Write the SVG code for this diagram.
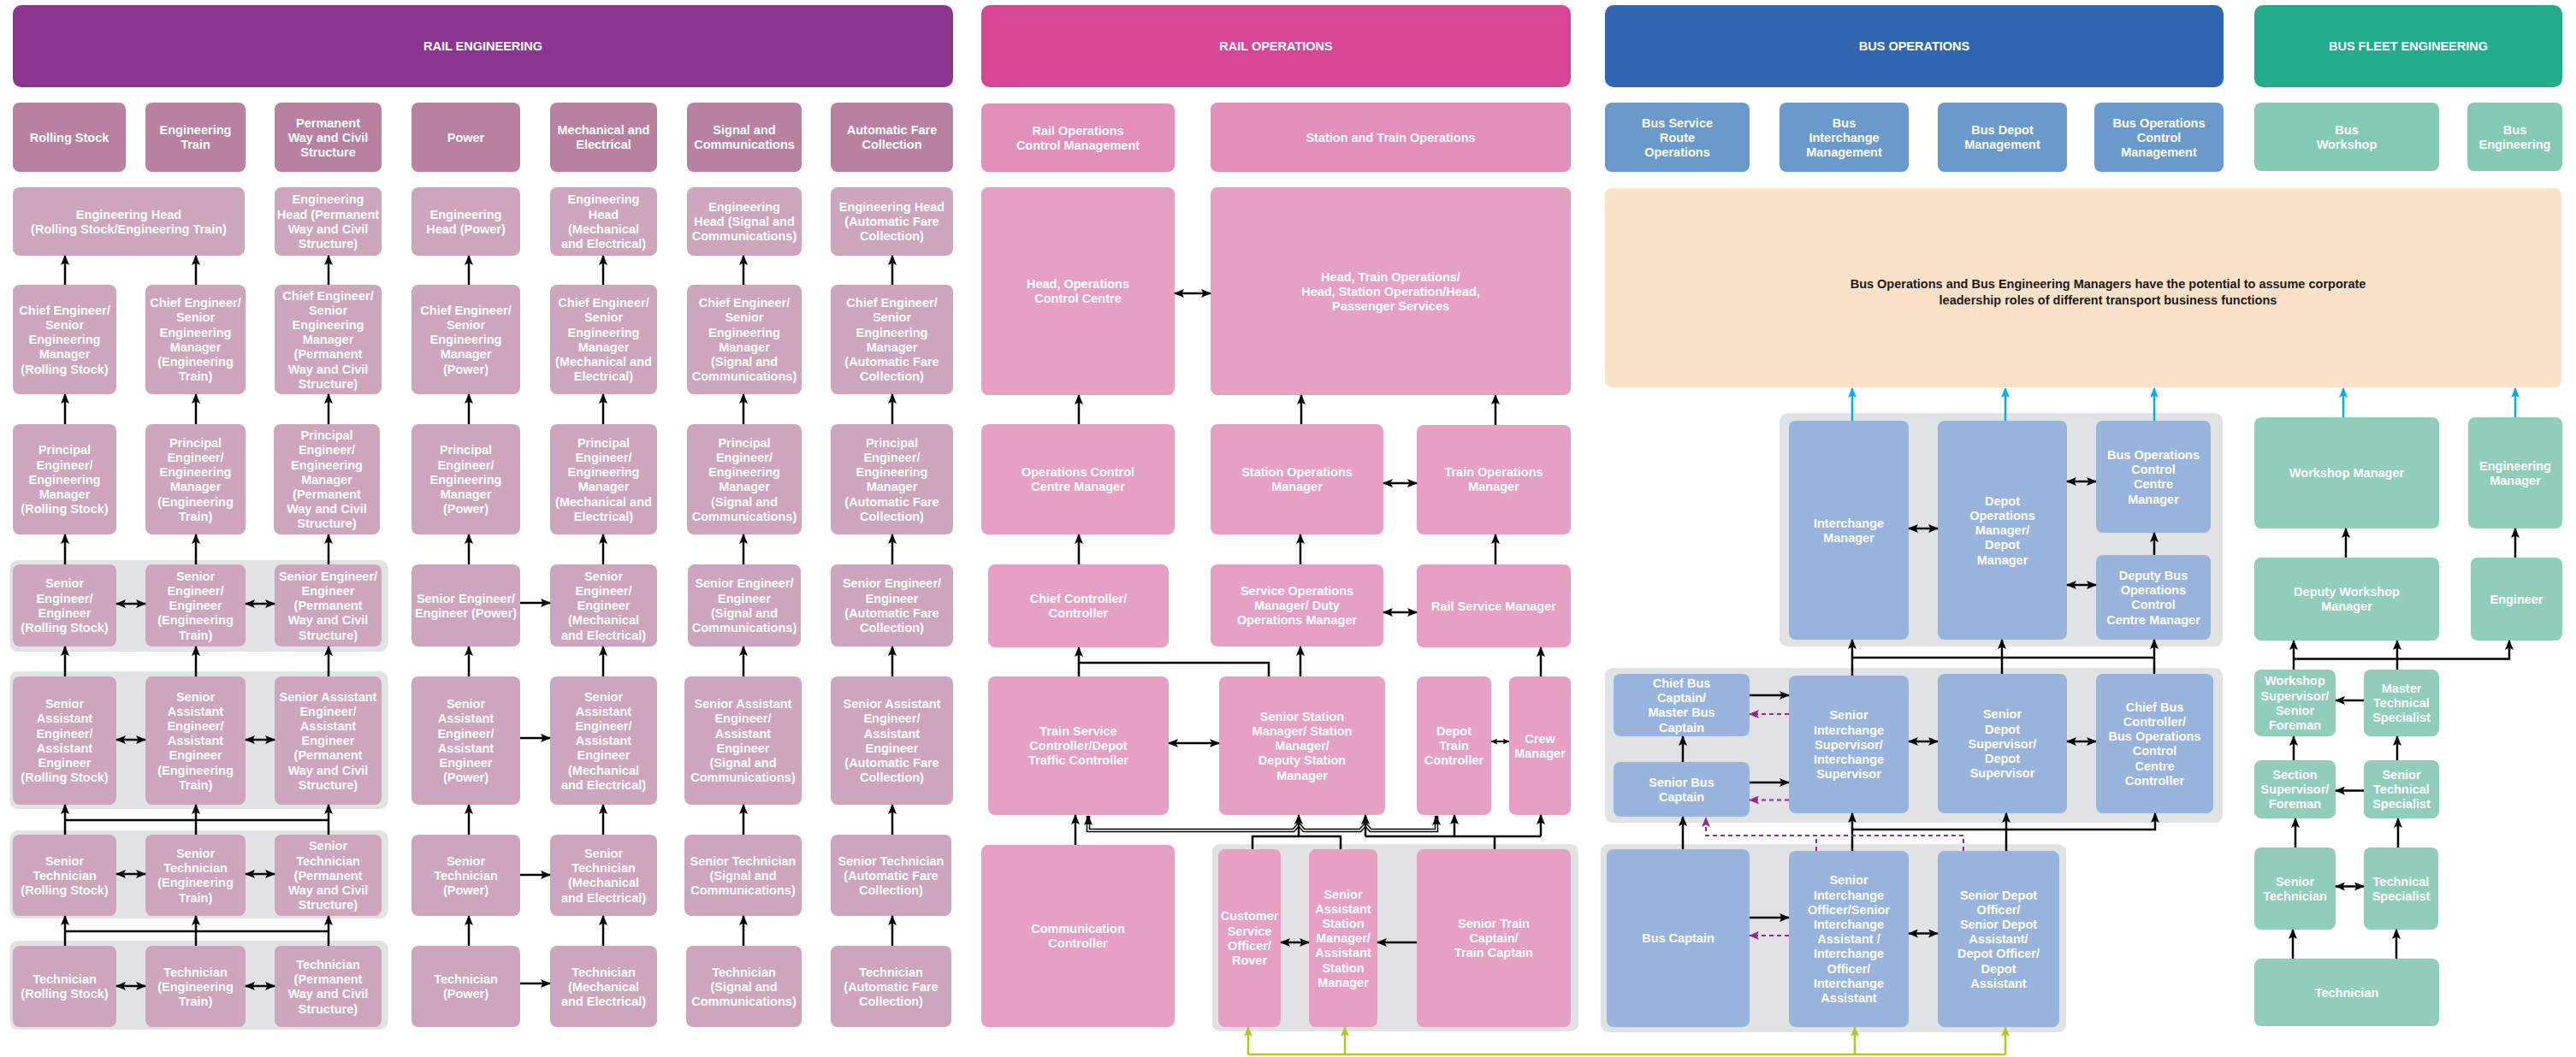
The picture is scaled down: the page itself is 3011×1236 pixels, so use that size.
<svg xmlns="http://www.w3.org/2000/svg" width="3011" height="1236" viewBox="0 0 3011 1236">
<style>
.t{font-family:"Liberation Sans",Arial,sans-serif;font-weight:bold;font-size:14.5px;fill:#fff;text-anchor:middle}
.pt{font-family:"Liberation Sans",Arial,sans-serif;font-weight:bold;font-size:14.5px;fill:#1a1a1a;text-anchor:middle}
.band{fill:#E1E2E4}
.reh{fill:#8C358F}.rec{fill:#B7819F}.reb{fill:#CDA5BD}
.roh{fill:#D64694}.roc{fill:#E290BA}.rob{fill:#E6A0C4}
.boh{fill:#3066AF}.boc{fill:#6A99CB}.bob{fill:#98B4DC}
.bfh{fill:#22AC8A}.bfc{fill:#84C9B3}.bfb{fill:#90CDBA}
.peach{fill:#FCE1C9}
.c{fill:none;stroke:#000;stroke-width:2.5}
.ca{fill:none;stroke:#000;stroke-width:2.5;marker-end:url(#a)}
.cb{fill:none;stroke:#000;stroke-width:2.5;marker-start:url(#a);marker-end:url(#a)}
.cs{fill:none;stroke:#000;stroke-width:2;marker-start:url(#as);marker-end:url(#as)}
.cy{fill:none;stroke:#00AEEF;stroke-width:2.5;marker-end:url(#ac)}
.gr{fill:none;stroke:#B2C81E;stroke-width:2.5}
.gra{fill:none;stroke:#B2C81E;stroke-width:2.5;marker-end:url(#ag)}
.pd{fill:none;stroke:#93278F;stroke-width:2;stroke-dasharray:5 4}
.pda{fill:none;stroke:#93278F;stroke-width:2;stroke-dasharray:5 4;marker-end:url(#ap)}
</style>
<defs>
<marker id="a" viewBox="0 0 12 10" refX="11" refY="5" markerWidth="12" markerHeight="10" markerUnits="userSpaceOnUse" orient="auto-start-reverse"><path d="M0,0 L12,5 L0,10 L2.5,5 z" fill="#000"/></marker>
<marker id="as" viewBox="0 0 12 10" refX="11" refY="5" markerWidth="8" markerHeight="7" markerUnits="userSpaceOnUse" orient="auto-start-reverse"><path d="M0,0 L12,5 L0,10 L2.5,5 z" fill="#000"/></marker>
<marker id="ac" viewBox="0 0 12 10" refX="11" refY="5" markerWidth="12" markerHeight="10" markerUnits="userSpaceOnUse" orient="auto-start-reverse"><path d="M0,0 L12,5 L0,10 L2.5,5 z" fill="#00AEEF"/></marker>
<marker id="ag" viewBox="0 0 12 10" refX="11" refY="5" markerWidth="12" markerHeight="10" markerUnits="userSpaceOnUse" orient="auto-start-reverse"><path d="M0,0 L12,5 L0,10 L2.5,5 z" fill="#B2C81E"/></marker>
<marker id="ap" viewBox="0 0 12 10" refX="11" refY="5" markerWidth="12" markerHeight="10" markerUnits="userSpaceOnUse" orient="auto-start-reverse"><path d="M0,0 L12,5 L0,10 L2.5,5 z" fill="#93278F"/></marker>
</defs>
<rect width="3011" height="1236" fill="#fff"/>

<g id="bands">
<rect class="band" x="11.5" y="655" width="442" height="107" rx="9"/>
<rect class="band" x="11.5" y="785" width="442" height="161" rx="9"/>
<rect class="band" x="11.5" y="971" width="442" height="103" rx="9"/>
<rect class="band" x="11.5" y="1100" width="442" height="104" rx="9"/>
<rect class="band" x="1417" y="987" width="428" height="219" rx="9"/>
<rect class="band" x="2080" y="483" width="518" height="273" rx="9"/>
<rect class="band" x="1876" y="781" width="722" height="181" rx="9"/>
<rect class="band" x="1871" y="987" width="544" height="220" rx="9"/>
</g>

<!-- ================= RAIL ENGINEERING ================= -->
<g id="hdr_rail_eng"><rect class="reh" x="15" y="6" width="1099" height="96" rx="10"/><text class="t" x="564.5" y="59.2">RAIL ENGINEERING</text></g>

<g id="cat_rs"><rect class="rec" x="15" y="120" width="132" height="81" rx="8"/><text class="t" x="81" y="165.7">Rolling Stock</text></g>
<g id="cat_et"><rect class="rec" x="170" y="120" width="117" height="81" rx="8"/><text class="t" x="228.5" y="157.1"><tspan x="228.5">Engineering</tspan><tspan x="228.5" dy="17.2">Train</tspan></text></g>
<g id="cat_pw"><rect class="rec" x="321" y="120" width="125" height="81" rx="8"/><text class="t" x="383.5" y="148.5"><tspan x="383.5">Permanent</tspan><tspan x="383.5" dy="17.2">Way and Civil</tspan><tspan x="383.5" dy="17.2">Structure</tspan></text></g>
<g id="cat_pow"><rect class="rec" x="481" y="120" width="127" height="81" rx="8"/><text class="t" x="544.5" y="165.7">Power</text></g>
<g id="cat_me"><rect class="rec" x="643" y="120" width="125" height="81" rx="8"/><text class="t" x="705.5" y="157.1"><tspan x="705.5">Mechanical and</tspan><tspan x="705.5" dy="17.2">Electrical</tspan></text></g>
<g id="cat_sc"><rect class="rec" x="803" y="120" width="134" height="81" rx="8"/><text class="t" x="870" y="157.1"><tspan x="870">Signal and</tspan><tspan x="870" dy="17.2">Communications</tspan></text></g>
<g id="cat_afc"><rect class="rec" x="971" y="120" width="143" height="81" rx="8"/><text class="t" x="1042.5" y="157.1"><tspan x="1042.5">Automatic Fare</tspan><tspan x="1042.5" dy="17.2">Collection</tspan></text></g>

<g id="head_rset"><rect class="reb" x="15" y="219" width="271" height="80" rx="8"/><text class="t" x="150.5" y="255.6"><tspan x="150.5">Engineering Head</tspan><tspan x="150.5" dy="17.2">(Rolling Stock/Engineering Train)</tspan></text></g>
<g id="head_pw"><rect class="reb" x="321" y="219" width="125" height="80" rx="8"/><text class="t" x="383.5" y="238.4"><tspan x="383.5">Engineering</tspan><tspan x="383.5" dy="17.2">Head (Permanent</tspan><tspan x="383.5" dy="17.2">Way and Civil</tspan><tspan x="383.5" dy="17.2">Structure)</tspan></text></g>
<g id="head_pow"><rect class="reb" x="481" y="219" width="127" height="80" rx="8"/><text class="t" x="544.5" y="255.6"><tspan x="544.5">Engineering</tspan><tspan x="544.5" dy="17.2">Head (Power)</tspan></text></g>
<g id="head_me"><rect class="reb" x="643" y="219" width="125" height="80" rx="8"/><text class="t" x="705.5" y="238.4"><tspan x="705.5">Engineering</tspan><tspan x="705.5" dy="17.2">Head</tspan><tspan x="705.5" dy="17.2">(Mechanical</tspan><tspan x="705.5" dy="17.2">and Electrical)</tspan></text></g>
<g id="head_sc"><rect class="reb" x="803" y="219" width="134" height="80" rx="8"/><text class="t" x="870" y="247"><tspan x="870">Engineering</tspan><tspan x="870" dy="17.2">Head (Signal and</tspan><tspan x="870" dy="17.2">Communications)</tspan></text></g>
<g id="head_afc"><rect class="reb" x="971" y="219" width="143" height="80" rx="8"/><text class="t" x="1042.5" y="247"><tspan x="1042.5">Engineering Head</tspan><tspan x="1042.5" dy="17.2">(Automatic Fare</tspan><tspan x="1042.5" dy="17.2">Collection)</tspan></text></g>

<g id="chief_rs"><rect class="reb" x="15" y="333" width="121" height="128" rx="8"/><text class="t" x="75.5" y="367.8"><tspan x="75.5">Chief Engineer/</tspan><tspan x="75.5" dy="17.2">Senior</tspan><tspan x="75.5" dy="17.2">Engineering</tspan><tspan x="75.5" dy="17.2">Manager</tspan><tspan x="75.5" dy="17.2">(Rolling Stock)</tspan></text></g>
<g id="chief_et"><rect class="reb" x="170" y="333" width="117" height="128" rx="8"/><text class="t" x="228.5" y="359.2"><tspan x="228.5">Chief Engineer/</tspan><tspan x="228.5" dy="17.2">Senior</tspan><tspan x="228.5" dy="17.2">Engineering</tspan><tspan x="228.5" dy="17.2">Manager</tspan><tspan x="228.5" dy="17.2">(Engineering</tspan><tspan x="228.5" dy="17.2">Train)</tspan></text></g>
<g id="chief_pw"><rect class="reb" x="321" y="333" width="125" height="128" rx="8"/><text class="t" x="383.5" y="350.6"><tspan x="383.5">Chief Engineer/</tspan><tspan x="383.5" dy="17.2">Senior</tspan><tspan x="383.5" dy="17.2">Engineering</tspan><tspan x="383.5" dy="17.2">Manager</tspan><tspan x="383.5" dy="17.2">(Permanent</tspan><tspan x="383.5" dy="17.2">Way and Civil</tspan><tspan x="383.5" dy="17.2">Structure)</tspan></text></g>
<g id="chief_pow"><rect class="reb" x="481" y="333" width="127" height="128" rx="8"/><text class="t" x="544.5" y="367.8"><tspan x="544.5">Chief Engineer/</tspan><tspan x="544.5" dy="17.2">Senior</tspan><tspan x="544.5" dy="17.2">Engineering</tspan><tspan x="544.5" dy="17.2">Manager</tspan><tspan x="544.5" dy="17.2">(Power)</tspan></text></g>
<g id="chief_me"><rect class="reb" x="643" y="333" width="125" height="128" rx="8"/><text class="t" x="705.5" y="359.2"><tspan x="705.5">Chief Engineer/</tspan><tspan x="705.5" dy="17.2">Senior</tspan><tspan x="705.5" dy="17.2">Engineering</tspan><tspan x="705.5" dy="17.2">Manager</tspan><tspan x="705.5" dy="17.2">(Mechanical and</tspan><tspan x="705.5" dy="17.2">Electrical)</tspan></text></g>
<g id="chief_sc"><rect class="reb" x="803" y="333" width="134" height="128" rx="8"/><text class="t" x="870" y="359.2"><tspan x="870">Chief Engineer/</tspan><tspan x="870" dy="17.2">Senior</tspan><tspan x="870" dy="17.2">Engineering</tspan><tspan x="870" dy="17.2">Manager</tspan><tspan x="870" dy="17.2">(Signal and</tspan><tspan x="870" dy="17.2">Communications)</tspan></text></g>
<g id="chief_afc"><rect class="reb" x="971" y="333" width="143" height="128" rx="8"/><text class="t" x="1042.5" y="359.2"><tspan x="1042.5">Chief Engineer/</tspan><tspan x="1042.5" dy="17.2">Senior</tspan><tspan x="1042.5" dy="17.2">Engineering</tspan><tspan x="1042.5" dy="17.2">Manager</tspan><tspan x="1042.5" dy="17.2">(Automatic Fare</tspan><tspan x="1042.5" dy="17.2">Collection)</tspan></text></g>

<g id="princ_rs"><rect class="reb" x="15" y="496" width="121" height="129" rx="8"/><text class="t" x="75.5" y="531.3"><tspan x="75.5">Principal</tspan><tspan x="75.5" dy="17.2">Engineer/</tspan><tspan x="75.5" dy="17.2">Engineering</tspan><tspan x="75.5" dy="17.2">Manager</tspan><tspan x="75.5" dy="17.2">(Rolling Stock)</tspan></text></g>
<g id="princ_et"><rect class="reb" x="170" y="496" width="117" height="129" rx="8"/><text class="t" x="228.5" y="522.7"><tspan x="228.5">Principal</tspan><tspan x="228.5" dy="17.2">Engineer/</tspan><tspan x="228.5" dy="17.2">Engineering</tspan><tspan x="228.5" dy="17.2">Manager</tspan><tspan x="228.5" dy="17.2">(Engineering</tspan><tspan x="228.5" dy="17.2">Train)</tspan></text></g>
<g id="princ_pw"><rect class="reb" x="320" y="496" width="124" height="129" rx="8"/><text class="t" x="382" y="514.1"><tspan x="382">Principal</tspan><tspan x="382" dy="17.2">Engineer/</tspan><tspan x="382" dy="17.2">Engineering</tspan><tspan x="382" dy="17.2">Manager</tspan><tspan x="382" dy="17.2">(Permanent</tspan><tspan x="382" dy="17.2">Way and Civil</tspan><tspan x="382" dy="17.2">Structure)</tspan></text></g>
<g id="princ_pow"><rect class="reb" x="481" y="496" width="127" height="129" rx="8"/><text class="t" x="544.5" y="531.3"><tspan x="544.5">Principal</tspan><tspan x="544.5" dy="17.2">Engineer/</tspan><tspan x="544.5" dy="17.2">Engineering</tspan><tspan x="544.5" dy="17.2">Manager</tspan><tspan x="544.5" dy="17.2">(Power)</tspan></text></g>
<g id="princ_me"><rect class="reb" x="643" y="496" width="125" height="129" rx="8"/><text class="t" x="705.5" y="522.7"><tspan x="705.5">Principal</tspan><tspan x="705.5" dy="17.2">Engineer/</tspan><tspan x="705.5" dy="17.2">Engineering</tspan><tspan x="705.5" dy="17.2">Manager</tspan><tspan x="705.5" dy="17.2">(Mechanical and</tspan><tspan x="705.5" dy="17.2">Electrical)</tspan></text></g>
<g id="princ_sc"><rect class="reb" x="803" y="496" width="134" height="129" rx="8"/><text class="t" x="870" y="522.7"><tspan x="870">Principal</tspan><tspan x="870" dy="17.2">Engineer/</tspan><tspan x="870" dy="17.2">Engineering</tspan><tspan x="870" dy="17.2">Manager</tspan><tspan x="870" dy="17.2">(Signal and</tspan><tspan x="870" dy="17.2">Communications)</tspan></text></g>
<g id="princ_afc"><rect class="reb" x="971" y="496" width="143" height="129" rx="8"/><text class="t" x="1042.5" y="522.7"><tspan x="1042.5">Principal</tspan><tspan x="1042.5" dy="17.2">Engineer/</tspan><tspan x="1042.5" dy="17.2">Engineering</tspan><tspan x="1042.5" dy="17.2">Manager</tspan><tspan x="1042.5" dy="17.2">(Automatic Fare</tspan><tspan x="1042.5" dy="17.2">Collection)</tspan></text></g>

<g id="seng_rs"><rect class="reb" x="15" y="660" width="121" height="96" rx="8"/><text class="t" x="75.5" y="687.4"><tspan x="75.5">Senior</tspan><tspan x="75.5" dy="17.2">Engineer/</tspan><tspan x="75.5" dy="17.2">Engineer</tspan><tspan x="75.5" dy="17.2">(Rolling Stock)</tspan></text></g>
<g id="seng_et"><rect class="reb" x="170" y="660" width="117" height="96" rx="8"/><text class="t" x="228.5" y="678.8"><tspan x="228.5">Senior</tspan><tspan x="228.5" dy="17.2">Engineer/</tspan><tspan x="228.5" dy="17.2">Engineer</tspan><tspan x="228.5" dy="17.2">(Engineering</tspan><tspan x="228.5" dy="17.2">Train)</tspan></text></g>
<g id="seng_pw"><rect class="reb" x="321" y="660" width="125" height="96" rx="8"/><text class="t" x="383.5" y="678.8"><tspan x="383.5">Senior Engineer/</tspan><tspan x="383.5" dy="17.2">Engineer</tspan><tspan x="383.5" dy="17.2">(Permanent</tspan><tspan x="383.5" dy="17.2">Way and Civil</tspan><tspan x="383.5" dy="17.2">Structure)</tspan></text></g>
<g id="seng_pow"><rect class="reb" x="481" y="660" width="127" height="96" rx="8"/><text class="t" x="544.5" y="704.6"><tspan x="544.5">Senior Engineer/</tspan><tspan x="544.5" dy="17.2">Engineer (Power)</tspan></text></g>
<g id="seng_me"><rect class="reb" x="643" y="660" width="125" height="96" rx="8"/><text class="t" x="705.5" y="678.8"><tspan x="705.5">Senior</tspan><tspan x="705.5" dy="17.2">Engineer/</tspan><tspan x="705.5" dy="17.2">Engineer</tspan><tspan x="705.5" dy="17.2">(Mechanical</tspan><tspan x="705.5" dy="17.2">and Electrical)</tspan></text></g>
<g id="seng_sc"><rect class="reb" x="804" y="660" width="132" height="96" rx="8"/><text class="t" x="870" y="687.4"><tspan x="870">Senior Engineer/</tspan><tspan x="870" dy="17.2">Engineer</tspan><tspan x="870" dy="17.2">(Signal and</tspan><tspan x="870" dy="17.2">Communications)</tspan></text></g>
<g id="seng_afc"><rect class="reb" x="971" y="660" width="143" height="96" rx="8"/><text class="t" x="1042.5" y="687.4"><tspan x="1042.5">Senior Engineer/</tspan><tspan x="1042.5" dy="17.2">Engineer</tspan><tspan x="1042.5" dy="17.2">(Automatic Fare</tspan><tspan x="1042.5" dy="17.2">Collection)</tspan></text></g>

<g id="sasst_rs"><rect class="reb" x="15" y="791" width="121" height="150" rx="8"/><text class="t" x="75.5" y="828.2"><tspan x="75.5">Senior</tspan><tspan x="75.5" dy="17.2">Assistant</tspan><tspan x="75.5" dy="17.2">Engineer/</tspan><tspan x="75.5" dy="17.2">Assistant</tspan><tspan x="75.5" dy="17.2">Engineer</tspan><tspan x="75.5" dy="17.2">(Rolling Stock)</tspan></text></g>
<g id="sasst_et"><rect class="reb" x="170" y="791" width="117" height="150" rx="8"/><text class="t" x="228.5" y="819.6"><tspan x="228.5">Senior</tspan><tspan x="228.5" dy="17.2">Assistant</tspan><tspan x="228.5" dy="17.2">Engineer/</tspan><tspan x="228.5" dy="17.2">Assistant</tspan><tspan x="228.5" dy="17.2">Engineer</tspan><tspan x="228.5" dy="17.2">(Engineering</tspan><tspan x="228.5" dy="17.2">Train)</tspan></text></g>
<g id="sasst_pw"><rect class="reb" x="321" y="791" width="125" height="150" rx="8"/><text class="t" x="383.5" y="819.6"><tspan x="383.5">Senior Assistant</tspan><tspan x="383.5" dy="17.2">Engineer/</tspan><tspan x="383.5" dy="17.2">Assistant</tspan><tspan x="383.5" dy="17.2">Engineer</tspan><tspan x="383.5" dy="17.2">(Permanent</tspan><tspan x="383.5" dy="17.2">Way and Civil</tspan><tspan x="383.5" dy="17.2">Structure)</tspan></text></g>
<g id="sasst_pow"><rect class="reb" x="481" y="791" width="127" height="150" rx="8"/><text class="t" x="544.5" y="828.2"><tspan x="544.5">Senior</tspan><tspan x="544.5" dy="17.2">Assistant</tspan><tspan x="544.5" dy="17.2">Engineer/</tspan><tspan x="544.5" dy="17.2">Assistant</tspan><tspan x="544.5" dy="17.2">Engineer</tspan><tspan x="544.5" dy="17.2">(Power)</tspan></text></g>
<g id="sasst_me"><rect class="reb" x="643" y="791" width="125" height="150" rx="8"/><text class="t" x="705.5" y="819.6"><tspan x="705.5">Senior</tspan><tspan x="705.5" dy="17.2">Assistant</tspan><tspan x="705.5" dy="17.2">Engineer/</tspan><tspan x="705.5" dy="17.2">Assistant</tspan><tspan x="705.5" dy="17.2">Engineer</tspan><tspan x="705.5" dy="17.2">(Mechanical</tspan><tspan x="705.5" dy="17.2">and Electrical)</tspan></text></g>
<g id="sasst_sc"><rect class="reb" x="800" y="791" width="137" height="150" rx="8"/><text class="t" x="868.5" y="828.2"><tspan x="868.5">Senior Assistant</tspan><tspan x="868.5" dy="17.2">Engineer/</tspan><tspan x="868.5" dy="17.2">Assistant</tspan><tspan x="868.5" dy="17.2">Engineer</tspan><tspan x="868.5" dy="17.2">(Signal and</tspan><tspan x="868.5" dy="17.2">Communications)</tspan></text></g>
<g id="sasst_afc"><rect class="reb" x="971" y="791" width="143" height="150" rx="8"/><text class="t" x="1042.5" y="828.2"><tspan x="1042.5">Senior Assistant</tspan><tspan x="1042.5" dy="17.2">Engineer/</tspan><tspan x="1042.5" dy="17.2">Assistant</tspan><tspan x="1042.5" dy="17.2">Engineer</tspan><tspan x="1042.5" dy="17.2">(Automatic Fare</tspan><tspan x="1042.5" dy="17.2">Collection)</tspan></text></g>

<g id="stech_rs"><rect class="reb" x="15" y="976" width="121" height="95" rx="8"/><text class="t" x="75.5" y="1011.5"><tspan x="75.5">Senior</tspan><tspan x="75.5" dy="17.2">Technician</tspan><tspan x="75.5" dy="17.2">(Rolling Stock)</tspan></text></g>
<g id="stech_et"><rect class="reb" x="170" y="976" width="117" height="95" rx="8"/><text class="t" x="228.5" y="1002.9"><tspan x="228.5">Senior</tspan><tspan x="228.5" dy="17.2">Technician</tspan><tspan x="228.5" dy="17.2">(Engineering</tspan><tspan x="228.5" dy="17.2">Train)</tspan></text></g>
<g id="stech_pw"><rect class="reb" x="321" y="976" width="125" height="95" rx="8"/><text class="t" x="383.5" y="994.3"><tspan x="383.5">Senior</tspan><tspan x="383.5" dy="17.2">Technician</tspan><tspan x="383.5" dy="17.2">(Permanent</tspan><tspan x="383.5" dy="17.2">Way and Civil</tspan><tspan x="383.5" dy="17.2">Structure)</tspan></text></g>
<g id="stech_pow"><rect class="reb" x="481" y="976" width="127" height="95" rx="8"/><text class="t" x="544.5" y="1011.5"><tspan x="544.5">Senior</tspan><tspan x="544.5" dy="17.2">Technician</tspan><tspan x="544.5" dy="17.2">(Power)</tspan></text></g>
<g id="stech_me"><rect class="reb" x="643" y="976" width="125" height="95" rx="8"/><text class="t" x="705.5" y="1002.9"><tspan x="705.5">Senior</tspan><tspan x="705.5" dy="17.2">Technician</tspan><tspan x="705.5" dy="17.2">(Mechanical</tspan><tspan x="705.5" dy="17.2">and Electrical)</tspan></text></g>
<g id="stech_sc"><rect class="reb" x="800" y="976" width="137" height="95" rx="8"/><text class="t" x="868.5" y="1011.5"><tspan x="868.5">Senior Technician</tspan><tspan x="868.5" dy="17.2">(Signal and</tspan><tspan x="868.5" dy="17.2">Communications)</tspan></text></g>
<g id="stech_afc"><rect class="reb" x="971" y="976" width="141" height="95" rx="8"/><text class="t" x="1041.5" y="1011.5"><tspan x="1041.5">Senior Technician</tspan><tspan x="1041.5" dy="17.2">(Automatic Fare</tspan><tspan x="1041.5" dy="17.2">Collection)</tspan></text></g>

<g id="tech_rs"><rect class="reb" x="15" y="1106" width="121" height="95" rx="8"/><text class="t" x="75.5" y="1150.1"><tspan x="75.5">Technician</tspan><tspan x="75.5" dy="17.2">(Rolling Stock)</tspan></text></g>
<g id="tech_et"><rect class="reb" x="170" y="1106" width="117" height="95" rx="8"/><text class="t" x="228.5" y="1141.5"><tspan x="228.5">Technician</tspan><tspan x="228.5" dy="17.2">(Engineering</tspan><tspan x="228.5" dy="17.2">Train)</tspan></text></g>
<g id="tech_pw"><rect class="reb" x="321" y="1106" width="125" height="95" rx="8"/><text class="t" x="383.5" y="1132.9"><tspan x="383.5">Technician</tspan><tspan x="383.5" dy="17.2">(Permanent</tspan><tspan x="383.5" dy="17.2">Way and Civil</tspan><tspan x="383.5" dy="17.2">Structure)</tspan></text></g>
<g id="tech_pow"><rect class="reb" x="481" y="1106" width="127" height="95" rx="8"/><text class="t" x="544.5" y="1150.1"><tspan x="544.5">Technician</tspan><tspan x="544.5" dy="17.2">(Power)</tspan></text></g>
<g id="tech_me"><rect class="reb" x="643" y="1106" width="125" height="95" rx="8"/><text class="t" x="705.5" y="1141.5"><tspan x="705.5">Technician</tspan><tspan x="705.5" dy="17.2">(Mechanical</tspan><tspan x="705.5" dy="17.2">and Electrical)</tspan></text></g>
<g id="tech_sc"><rect class="reb" x="802" y="1106" width="135" height="95" rx="8"/><text class="t" x="869.5" y="1141.5"><tspan x="869.5">Technician</tspan><tspan x="869.5" dy="17.2">(Signal and</tspan><tspan x="869.5" dy="17.2">Communications)</tspan></text></g>
<g id="tech_afc"><rect class="reb" x="971" y="1106" width="141" height="95" rx="8"/><text class="t" x="1041.5" y="1141.5"><tspan x="1041.5">Technician</tspan><tspan x="1041.5" dy="17.2">(Automatic Fare</tspan><tspan x="1041.5" dy="17.2">Collection)</tspan></text></g>

<!-- ================= RAIL OPERATIONS ================= -->
<g id="hdr_rail_ops"><rect class="roh" x="1147" y="6" width="689" height="96" rx="10"/><text class="t" x="1491.5" y="59.2">RAIL OPERATIONS</text></g>
<g id="cat_rocm"><rect class="roc" x="1147" y="121" width="226" height="80" rx="8"/><text class="t" x="1260" y="157.6"><tspan x="1260">Rail Operations</tspan><tspan x="1260" dy="17.2">Control Management</tspan></text></g>
<g id="cat_sto"><rect class="roc" x="1415" y="120" width="421" height="81" rx="8"/><text class="t" x="1625.5" y="165.7">Station and Train Operations</text></g>
<g id="head_occ"><rect class="rob" x="1147" y="219" width="226" height="243" rx="8"/><text class="t" x="1260" y="337.1"><tspan x="1260">Head, Operations</tspan><tspan x="1260" dy="17.2">Control Centre</tspan></text></g>
<g id="head_to"><rect class="rob" x="1415" y="219" width="421" height="243" rx="8"/><text class="t" x="1625.5" y="328.5"><tspan x="1625.5">Head, Train Operations/</tspan><tspan x="1625.5" dy="17.2">Head, Station Operation/Head,</tspan><tspan x="1625.5" dy="17.2">Passenger Services</tspan></text></g>
<g id="occ_mgr"><rect class="rob" x="1147" y="496" width="226" height="129" rx="8"/><text class="t" x="1260" y="557.1"><tspan x="1260">Operations Control</tspan><tspan x="1260" dy="17.2">Centre Manager</tspan></text></g>
<g id="som"><rect class="rob" x="1415" y="496" width="202" height="129" rx="8"/><text class="t" x="1516" y="557.1"><tspan x="1516">Station Operations</tspan><tspan x="1516" dy="17.2">Manager</tspan></text></g>
<g id="tom"><rect class="rob" x="1656" y="497" width="180" height="128" rx="8"/><text class="t" x="1746" y="557.1"><tspan x="1746">Train Operations</tspan><tspan x="1746" dy="17.2">Manager</tspan></text></g>
<g id="chief_ctrl"><rect class="rob" x="1155" y="660" width="211" height="97" rx="8"/><text class="t" x="1260.5" y="705.1"><tspan x="1260.5">Chief Controller/</tspan><tspan x="1260.5" dy="17.2">Controller</tspan></text></g>
<g id="serv_ops"><rect class="rob" x="1415" y="660" width="202" height="96" rx="8"/><text class="t" x="1516" y="696"><tspan x="1516">Service Operations</tspan><tspan x="1516" dy="17.2">Manager/ Duty</tspan><tspan x="1516" dy="17.2">Operations Manager</tspan></text></g>
<g id="rail_serv"><rect class="rob" x="1656" y="660" width="180" height="97" rx="8"/><text class="t" x="1746" y="713.7">Rail Service Manager</text></g>
<g id="tsc"><rect class="rob" x="1155" y="791" width="211" height="162" rx="8"/><text class="t" x="1260.5" y="860"><tspan x="1260.5">Train Service</tspan><tspan x="1260.5" dy="17.2">Controller/Depot</tspan><tspan x="1260.5" dy="17.2">Traffic Controller</tspan></text></g>
<g id="ssm"><rect class="rob" x="1425" y="791" width="194" height="162" rx="8"/><text class="t" x="1522" y="842.8"><tspan x="1522">Senior Station</tspan><tspan x="1522" dy="17.2">Manager/ Station</tspan><tspan x="1522" dy="17.2">Manager/</tspan><tspan x="1522" dy="17.2">Deputy Station</tspan><tspan x="1522" dy="17.2">Manager</tspan></text></g>
<g id="dtc"><rect class="rob" x="1656" y="791" width="87" height="162" rx="8"/><text class="t" x="1699.5" y="860"><tspan x="1699.5">Depot</tspan><tspan x="1699.5" dy="17.2">Train</tspan><tspan x="1699.5" dy="17.2">Controller</tspan></text></g>
<g id="crew"><rect class="rob" x="1764" y="791" width="72" height="162" rx="8"/><text class="t" x="1800" y="868.6"><tspan x="1800">Crew</tspan><tspan x="1800" dy="17.2">Manager</tspan></text></g>
<g id="comm"><rect class="rob" x="1147" y="988" width="226" height="213" rx="8"/><text class="t" x="1260" y="1091.1"><tspan x="1260">Communication</tspan><tspan x="1260" dy="17.2">Controller</tspan></text></g>
<g id="cso"><rect class="rob" x="1424" y="993" width="73" height="208" rx="8"/><text class="t" x="1460.5" y="1076.4"><tspan x="1460.5">Customer</tspan><tspan x="1460.5" dy="17.2">Service</tspan><tspan x="1460.5" dy="17.2">Officer/</tspan><tspan x="1460.5" dy="17.2">Rover</tspan></text></g>
<g id="sasm"><rect class="rob" x="1530" y="993" width="80" height="208" rx="8"/><text class="t" x="1570" y="1050.6"><tspan x="1570">Senior</tspan><tspan x="1570" dy="17.2">Assistant</tspan><tspan x="1570" dy="17.2">Station</tspan><tspan x="1570" dy="17.2">Manager/</tspan><tspan x="1570" dy="17.2">Assistant</tspan><tspan x="1570" dy="17.2">Station</tspan><tspan x="1570" dy="17.2">Manager</tspan></text></g>
<g id="stc"><rect class="rob" x="1656" y="993" width="180" height="208" rx="8"/><text class="t" x="1746" y="1085"><tspan x="1746">Senior Train</tspan><tspan x="1746" dy="17.2">Captain/</tspan><tspan x="1746" dy="17.2">Train Captain</tspan></text></g>

<!-- ================= BUS OPERATIONS ================= -->
<g id="hdr_bus_ops"><rect class="boh" x="1876" y="6" width="723" height="96" rx="10"/><text class="t" x="2237.5" y="59.2">BUS OPERATIONS</text></g>
<g id="cat_bsro"><rect class="boc" x="1876" y="120" width="169" height="81" rx="8"/><text class="t" x="1960.5" y="148.5"><tspan x="1960.5">Bus Service</tspan><tspan x="1960.5" dy="17.2">Route</tspan><tspan x="1960.5" dy="17.2">Operations</tspan></text></g>
<g id="cat_bim"><rect class="boc" x="2080" y="120" width="151" height="81" rx="8"/><text class="t" x="2155.5" y="148.5"><tspan x="2155.5">Bus</tspan><tspan x="2155.5" dy="17.2">Interchange</tspan><tspan x="2155.5" dy="17.2">Management</tspan></text></g>
<g id="cat_bdm"><rect class="boc" x="2265" y="120" width="151" height="81" rx="8"/><text class="t" x="2340.5" y="157.1"><tspan x="2340.5">Bus Depot</tspan><tspan x="2340.5" dy="17.2">Management</tspan></text></g>
<g id="cat_bocm"><rect class="boc" x="2448" y="120" width="151" height="81" rx="8"/><text class="t" x="2523.5" y="148.5"><tspan x="2523.5">Bus Operations</tspan><tspan x="2523.5" dy="17.2">Control</tspan><tspan x="2523.5" dy="17.2">Management</tspan></text></g>
<g id="leadership"><rect class="peach" x="1876" y="220" width="1118" height="233" rx="8"/><text class="pt" x="2464" y="337"><tspan x="2464">Bus Operations and Bus Engineering Managers have the potential to assume corporate</tspan><tspan x="2464" dy="19">leadership roles of different transport business functions</tspan></text></g>
<g id="im"><rect class="bob" x="2091" y="492" width="140" height="256" rx="8"/><text class="t" x="2161" y="616.6"><tspan x="2161">Interchange</tspan><tspan x="2161" dy="17.2">Manager</tspan></text></g>
<g id="dom"><rect class="bob" x="2265" y="492" width="151" height="256" rx="8"/><text class="t" x="2340.5" y="590.8"><tspan x="2340.5">Depot</tspan><tspan x="2340.5" dy="17.2">Operations</tspan><tspan x="2340.5" dy="17.2">Manager/</tspan><tspan x="2340.5" dy="17.2">Depot</tspan><tspan x="2340.5" dy="17.2">Manager</tspan></text></g>
<g id="boccm"><rect class="bob" x="2450" y="492" width="134" height="131" rx="8"/><text class="t" x="2517" y="536.9"><tspan x="2517">Bus Operations</tspan><tspan x="2517" dy="17.2">Control</tspan><tspan x="2517" dy="17.2">Centre</tspan><tspan x="2517" dy="17.2">Manager</tspan></text></g>
<g id="dboccm"><rect class="bob" x="2450" y="649" width="134" height="99" rx="8"/><text class="t" x="2517" y="677.9"><tspan x="2517">Deputy Bus</tspan><tspan x="2517" dy="17.2">Operations</tspan><tspan x="2517" dy="17.2">Control</tspan><tspan x="2517" dy="17.2">Centre Manager</tspan></text></g>
<g id="cbcap"><rect class="bob" x="1886" y="788" width="159" height="73" rx="8"/><text class="t" x="1965.5" y="803.9"><tspan x="1965.5">Chief Bus</tspan><tspan x="1965.5" dy="17.2">Captain/</tspan><tspan x="1965.5" dy="17.2">Master Bus</tspan><tspan x="1965.5" dy="17.2">Captain</tspan></text></g>
<g id="sbc"><rect class="bob" x="1886" y="891" width="159" height="64" rx="8"/><text class="t" x="1965.5" y="919.6"><tspan x="1965.5">Senior Bus</tspan><tspan x="1965.5" dy="17.2">Captain</tspan></text></g>
<g id="sis"><rect class="bob" x="2091" y="790" width="140" height="161" rx="8"/><text class="t" x="2161" y="841.3"><tspan x="2161">Senior</tspan><tspan x="2161" dy="17.2">Interchange</tspan><tspan x="2161" dy="17.2">Supervisor/</tspan><tspan x="2161" dy="17.2">Interchange</tspan><tspan x="2161" dy="17.2">Supervisor</tspan></text></g>
<g id="sds"><rect class="bob" x="2265" y="788" width="151" height="163" rx="8"/><text class="t" x="2340.5" y="840.3"><tspan x="2340.5">Senior</tspan><tspan x="2340.5" dy="17.2">Depot</tspan><tspan x="2340.5" dy="17.2">Supervisor/</tspan><tspan x="2340.5" dy="17.2">Depot</tspan><tspan x="2340.5" dy="17.2">Supervisor</tspan></text></g>
<g id="cbc"><rect class="bob" x="2450" y="788" width="137" height="163" rx="8"/><text class="t" x="2518.5" y="831.7"><tspan x="2518.5">Chief Bus</tspan><tspan x="2518.5" dy="17.2">Controller/</tspan><tspan x="2518.5" dy="17.2">Bus Operations</tspan><tspan x="2518.5" dy="17.2">Control</tspan><tspan x="2518.5" dy="17.2">Centre</tspan><tspan x="2518.5" dy="17.2">Controller</tspan></text></g>
<g id="bc"><rect class="bob" x="1878" y="993" width="167" height="208" rx="8"/><text class="t" x="1961.5" y="1102.2">Bus Captain</text></g>
<g id="sio"><rect class="bob" x="2091" y="995" width="140" height="206" rx="8"/><text class="t" x="2161" y="1034.4"><tspan x="2161">Senior</tspan><tspan x="2161" dy="17.2">Interchange</tspan><tspan x="2161" dy="17.2">Officer/Senior</tspan><tspan x="2161" dy="17.2">Interchange</tspan><tspan x="2161" dy="17.2">Assistant /</tspan><tspan x="2161" dy="17.2">Interchange</tspan><tspan x="2161" dy="17.2">Officer/</tspan><tspan x="2161" dy="17.2">Interchange</tspan><tspan x="2161" dy="17.2">Assistant</tspan></text></g>
<g id="sdo"><rect class="bob" x="2265" y="995" width="142" height="206" rx="8"/><text class="t" x="2336" y="1051.6"><tspan x="2336">Senior Depot</tspan><tspan x="2336" dy="17.2">Officer/</tspan><tspan x="2336" dy="17.2">Senior Depot</tspan><tspan x="2336" dy="17.2">Assistant/</tspan><tspan x="2336" dy="17.2">Depot Officer/</tspan><tspan x="2336" dy="17.2">Depot</tspan><tspan x="2336" dy="17.2">Assistant</tspan></text></g>

<!-- ================= BUS FLEET ENGINEERING ================= -->
<g id="hdr_bus_fleet"><rect class="bfh" x="2635" y="6" width="360" height="96" rx="10"/><text class="t" x="2815" y="59.2">BUS FLEET ENGINEERING</text></g>
<g id="cat_bw"><rect class="bfc" x="2635" y="120" width="216" height="80" rx="8"/><text class="t" x="2743" y="156.6"><tspan x="2743">Bus</tspan><tspan x="2743" dy="17.2">Workshop</tspan></text></g>
<g id="cat_be"><rect class="bfc" x="2884" y="120" width="111" height="80" rx="8"/><text class="t" x="2939.5" y="156.6"><tspan x="2939.5">Bus</tspan><tspan x="2939.5" dy="17.2">Engineering</tspan></text></g>
<g id="wm"><rect class="bfb" x="2635" y="488" width="216" height="130" rx="8"/><text class="t" x="2743" y="558.2">Workshop Manager</text></g>
<g id="em"><rect class="bfb" x="2885" y="488" width="110" height="130" rx="8"/><text class="t" x="2940" y="549.6"><tspan x="2940">Engineering</tspan><tspan x="2940" dy="17.2">Manager</tspan></text></g>
<g id="dwm"><rect class="bfb" x="2635" y="652" width="216" height="97" rx="8"/><text class="t" x="2743" y="697.1"><tspan x="2743">Deputy Workshop</tspan><tspan x="2743" dy="17.2">Manager</tspan></text></g>
<g id="eng"><rect class="bfb" x="2888" y="652" width="107" height="97" rx="8"/><text class="t" x="2941.5" y="705.7">Engineer</text></g>
<g id="ws"><rect class="bfb" x="2635" y="783" width="95" height="78" rx="8"/><text class="t" x="2682.5" y="801.4"><tspan x="2682.5">Workshop</tspan><tspan x="2682.5" dy="17.2">Supervisor/</tspan><tspan x="2682.5" dy="17.2">Senior</tspan><tspan x="2682.5" dy="17.2">Foreman</tspan></text></g>
<g id="mts"><rect class="bfb" x="2763" y="783" width="88" height="78" rx="8"/><text class="t" x="2807" y="810"><tspan x="2807">Master</tspan><tspan x="2807" dy="17.2">Technical</tspan><tspan x="2807" dy="17.2">Specialist</tspan></text></g>
<g id="ssf"><rect class="bfb" x="2635" y="889" width="95" height="68" rx="8"/><text class="t" x="2682.5" y="911"><tspan x="2682.5">Section</tspan><tspan x="2682.5" dy="17.2">Supervisor/</tspan><tspan x="2682.5" dy="17.2">Foreman</tspan></text></g>
<g id="sts"><rect class="bfb" x="2763" y="889" width="88" height="68" rx="8"/><text class="t" x="2807" y="911"><tspan x="2807">Senior</tspan><tspan x="2807" dy="17.2">Technical</tspan><tspan x="2807" dy="17.2">Specialist</tspan></text></g>
<g id="st"><rect class="bfb" x="2635" y="991" width="95" height="96" rx="8"/><text class="t" x="2682.5" y="1035.6"><tspan x="2682.5">Senior</tspan><tspan x="2682.5" dy="17.2">Technician</tspan></text></g>
<g id="ts"><rect class="bfb" x="2763" y="991" width="87" height="96" rx="8"/><text class="t" x="2806.5" y="1035.6"><tspan x="2806.5">Technical</tspan><tspan x="2806.5" dy="17.2">Specialist</tspan></text></g>
<g id="tech_bf"><rect class="bfb" x="2635" y="1121" width="216" height="79" rx="8"/><text class="t" x="2743" y="1165.7">Technician</text></g>

<!-- ================= CONNECTORS ================= -->
<g id="connectors">
<!-- rail engineering verticals -->
<path class="ca" d="M76,333V299"/><path class="ca" d="M229,333V299"/><path class="ca" d="M384,333V299"/><path class="ca" d="M548,333V299"/><path class="ca" d="M705,333V299"/><path class="ca" d="M869,333V299"/><path class="ca" d="M1043,333V299"/>
<path class="ca" d="M76,496V461"/><path class="ca" d="M229,496V461"/><path class="ca" d="M384,496V461"/><path class="ca" d="M548,496V461"/><path class="ca" d="M705,496V461"/><path class="ca" d="M869,496V461"/><path class="ca" d="M1043,496V461"/>
<path class="ca" d="M76,660V625"/><path class="ca" d="M229,660V625"/><path class="ca" d="M384,660V625"/><path class="ca" d="M548,660V625"/><path class="ca" d="M705,660V625"/><path class="ca" d="M869,660V625"/><path class="ca" d="M1043,660V625"/>
<path class="ca" d="M76,791V756"/><path class="ca" d="M229,791V756"/><path class="ca" d="M384,791V756"/><path class="ca" d="M548,791V756"/><path class="ca" d="M705,791V756"/><path class="ca" d="M869,791V756"/><path class="ca" d="M1043,791V756"/>
<path class="ca" d="M76,976V941"/><path class="ca" d="M229,976V941"/><path class="ca" d="M384,976V941"/><path class="ca" d="M548,976V941"/><path class="ca" d="M705,976V941"/><path class="ca" d="M869,976V941"/><path class="ca" d="M1043,976V941"/>
<path class="ca" d="M76,1106V1071"/><path class="ca" d="M229,1106V1071"/><path class="ca" d="M384,1106V1071"/><path class="ca" d="M548,1106V1071"/><path class="ca" d="M705,1106V1071"/><path class="ca" d="M869,1106V1071"/><path class="ca" d="M1043,1106V1071"/>
<path class="c" d="M76,959H384M76,1089H384"/>
<!-- rail engineering horizontals -->
<path class="cb" d="M136,706H170"/><path class="cb" d="M287,706H321"/>
<path class="cb" d="M136,865H170"/><path class="cb" d="M287,865H321"/>
<path class="cb" d="M136,1022H170"/><path class="cb" d="M287,1022H321"/>
<path class="cb" d="M136,1153H170"/><path class="cb" d="M287,1153H321"/>
<path class="ca" d="M608,705H643"/><path class="ca" d="M608,863H643"/><path class="ca" d="M608,1023H643"/><path class="ca" d="M608,1150H643"/>

<!-- rail operations -->
<path class="cb" d="M1373,343H1415"/><path class="cb" d="M1617,565H1656"/><path class="cb" d="M1617,716H1656"/><path class="cb" d="M1366,869H1425"/><path class="cb" d="M1497,1102H1530"/>
<path class="cs" d="M1743,867H1764"/>
<path class="ca" d="M1261,496V462"/><path class="ca" d="M1521,496V462"/><path class="ca" d="M1748,497V462"/>
<path class="ca" d="M1261,660V625"/><path class="ca" d="M1520,660V625"/><path class="ca" d="M1748,660V625"/>
<path class="ca" d="M1261,791V757"/><path class="ca" d="M1520,791V756"/><path class="ca" d="M1801,791V757"/>
<path class="c" d="M1483,791V775H1261"/>
<path class="ca" d="M1257,988V953"/>
<path fill="none" stroke="#000" stroke-width="4.5" marker-start="url(#a)" marker-end="url(#a)" d="M1272,954V971H1512L1518,964L1524,971H1590L1596,964L1602,971H1679V954"/>
<path fill="none" stroke="#fff" stroke-width="1.5" d="M1272,964V971H1512L1518,964L1524,971H1590L1596,964L1602,971H1679V964"/>
<path class="c" d="M1464,993V978H1567V993M1747,993V978M1596,978H1801"/>
<path class="ca" d="M1518,978V953"/><path class="ca" d="M1596,978V953"/><path class="ca" d="M1700,978V953"/><path class="ca" d="M1801,978V953"/>
<path class="ca" d="M1656,1102H1610"/>
<path class="gr" d="M1459,1233H2344"/>
<path class="gra" d="M1459,1233V1201"/><path class="gra" d="M1572,1233V1201"/><path class="gra" d="M2168,1233V1201"/><path class="gra" d="M2344,1233V1201"/>

<!-- bus operations -->
<path class="cy" d="M2165,492V454"/><path class="cy" d="M2344,492V454"/><path class="cy" d="M2518,492V454"/><path class="cy" d="M2739,488V454"/><path class="cy" d="M2940,488V454"/>
<path class="cb" d="M2231,618H2265"/><path class="cb" d="M2416,563H2450"/><path class="cb" d="M2416,684H2450"/><path class="cb" d="M2231,867H2265"/><path class="cb" d="M2416,867H2450"/><path class="cb" d="M2231,1091.5H2265"/>
<path class="ca" d="M2518,649V623"/>
<path class="ca" d="M2165,790V748"/><path class="ca" d="M2340,788V748"/><path class="ca" d="M2518,788V748"/>
<path class="c" d="M2165,769H2518"/>
<path class="ca" d="M1967,891V861"/><path class="ca" d="M1967,993V955"/>
<path class="ca" d="M2045,813H2091"/><path class="ca" d="M2045,915H2091"/><path class="ca" d="M2045,1073H2091"/>
<path class="pda" d="M2091,835H2045"/><path class="pda" d="M2091,935.5H2045"/><path class="pda" d="M2091,1094H2045"/>
<path class="ca" d="M2165,995V951"/><path class="ca" d="M2345,995V951"/>
<path class="ca" d="M2165,970H2519V951"/>
<path class="pda" d="M2295,995V977H1994V956"/>
<path class="pd" d="M2123,995V977"/>

<!-- bus fleet engineering -->
<path class="ca" d="M2742,652V618"/><path class="ca" d="M2940,652V618"/>
<path class="ca" d="M2681,783V749"/><path class="ca" d="M2802,783V749"/>
<path class="ca" d="M2681,770.5H2933V749"/>
<path class="ca" d="M2763,819H2730"/><path class="ca" d="M2763,924.5H2730"/>
<path class="ca" d="M2681,889V861"/><path class="ca" d="M2802,889V861"/>
<path class="ca" d="M2683,991V957"/><path class="ca" d="M2803,991V957"/>
<path class="cb" d="M2730,1036.5H2763"/>
<path class="ca" d="M2680,1121V1087"/><path class="ca" d="M2801,1121V1087"/>
</g>
</svg>
